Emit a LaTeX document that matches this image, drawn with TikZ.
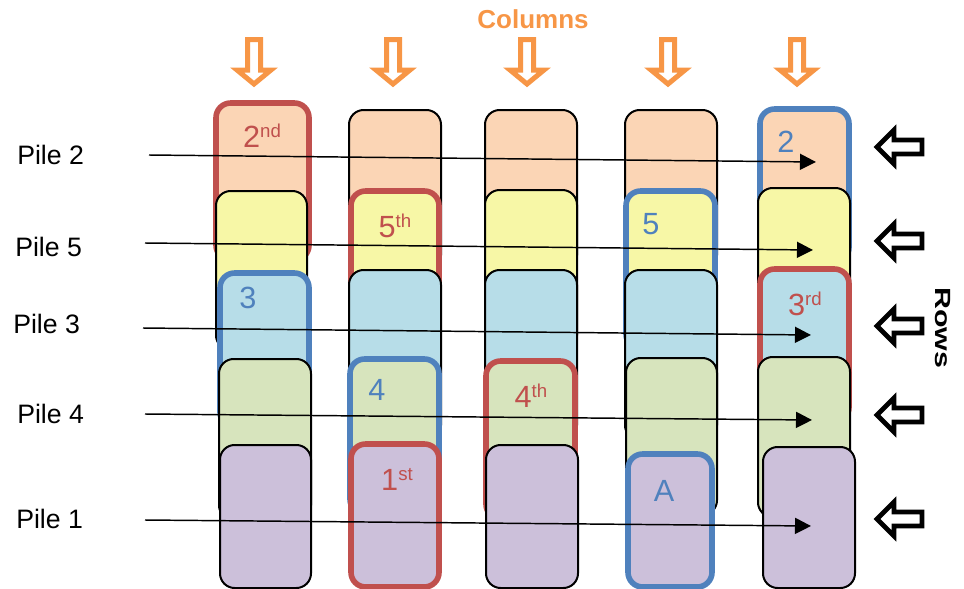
\documentclass[tikz,border=0pt]{standalone}
\usepackage{fontspec}
\setmainfont{Liberation Sans}
\usetikzlibrary{arrows.meta,fit}
\definecolor{peach}{RGB}{251,213,181}
\definecolor{yel}{RGB}{247,247,166}
\definecolor{lblue}{RGB}{183,221,232}
\definecolor{lgreen}{RGB}{215,228,189}
\definecolor{lpurple}{RGB}{204,192,218}
\definecolor{redb}{RGB}{192,80,77}
\definecolor{blueb}{RGB}{79,129,189}
\definecolor{orng}{RGB}{247,150,70}
\newcommand\supx[1]{\raisebox{7pt}{\fontsize{14}{15}\selectfont #1}}
\tikzset{
  cardbox/.style={draw=black, line width=1.5pt, rounded corners=11pt, inner sep=0pt, fill=#1},
  redbox/.style={draw=redb, line width=4.2pt, rounded corners=11pt, inner sep=0pt, fill=#1},
  bluebox/.style={draw=blueb, line width=4.2pt, rounded corners=11pt, inner sep=0pt, fill=#1},
  pilelabel/.style={font=\fontsize{20}{24}\selectfont, anchor=base west, inner sep=0pt},
  redlabel/.style={font=\fontsize{23}{27}\selectfont, text=redb, anchor=base, inner sep=0pt},
  bluelabel/.style={font=\fontsize{23}{27}\selectfont, text=blueb, anchor=base, inner sep=0pt},
  pilearrow/.style={line width=1.1pt, -{Triangle[length=12pt,width=12pt]}},
  colarrow/.style={draw=orng, line width=3.75pt, fill=white, line join=miter},
  rowarrow/.style={draw=black, line width=3.5pt, fill=white, line join=miter},
}
\begin{document}
\begin{tikzpicture}[x=0.75pt, y=-0.75pt]
\useasboundingbox (0,0) rectangle (964,589);
% ---- row 1 (peach)
\node[redbox=peach, fit={(216,103)(309,260)}] (c11) {};
\node[cardbox=peach, fit={(349,110)(441,270)}] (c21) {};
\node[cardbox=peach, fit={(485,110)(577,270)}] (c31) {};
\node[cardbox=peach, fit={(625,110)(717,270)}] (c41) {};
\node[bluebox=peach, fit={(760,109)(849,262)}] (c51) {};
\node[redlabel] (l11) at (262,147) {2\supx{nd}};
\node[bluelabel] (l51) at (786,152) {2};
% ---- row 2 (yellow)
\node[cardbox=yel, fit={(216,191)(307,350)}] (c12) {};
\node[redbox=yel, fit={(351,191)(439,352)}] (c22) {};
\node[cardbox=yel, fit={(485,190)(577,350)}] (c32) {};
\node[bluebox=yel, fit={(626,191)(715,349)}] (c42) {};
\node[cardbox=yel, fit={(758,188)(850,350)}] (c52) {};
\node[redlabel] (l22) at (395,237) {5\supx{th}};
\node[bluelabel] (l42) at (651,234) {5};
% ---- row 3 (blue)
\node[bluebox=lblue, fit={(220,273)(309,427)}] (c13) {};
\node[cardbox=lblue, fit={(349,270)(441,440)}] (c23) {};
\node[cardbox=lblue, fit={(485,270)(577,440)}] (c33) {};
\node[cardbox=lblue, fit={(625,270)(717,440)}] (c43) {};
\node[redbox=lblue, fit={(760,269)(849,422)}] (c53) {};
\node[bluelabel] (l13) at (248,308) {3};
\node[redlabel] (l53) at (805,315) {3\supx{rd}};
% ---- row 4 (green)
\node[cardbox=lgreen, fit={(219,359)(311,520)}] (c14) {};
\node[bluebox=lgreen, fit={(350,359)(439,514)}] (c24) {};
\node[redbox=lgreen, fit={(486,361)(575,519)}] (c34) {};
\node[cardbox=lgreen, fit={(626,358)(717,515)}] (c44) {};
\node[cardbox=lgreen, fit={(758,357)(850,517)}] (c54) {};
\node[bluelabel] (l24) at (377,400) {4};
\node[redlabel] (l34) at (531,407) {4\supx{th}};
% ---- row 5 (purple)
\node[cardbox=lpurple, fit={(220,445)(311,588)}] (c15) {};
\node[redbox=lpurple, fit={(351,444)(439,587)}] (c25) {};
\node[cardbox=lpurple, fit={(486,445)(578,588)}] (c35) {};
\node[bluebox=lpurple, fit={(628,454)(712,587)}] (c45) {};
\node[cardbox=lpurple, fit={(763,447)(855,588)}] (c55) {};
\node[redlabel] (l25) at (397,490) {1\supx{st}};
\node[bluelabel] (l45) at (664,501) {A};
% ---- pile labels and arrows
\node[pilelabel] (p2) at (17,164) {Pile 2};
\node[pilelabel] (p5) at (15,256) {Pile 5};
\node[pilelabel] (p3) at (13,333) {Pile 3};
\node[pilelabel] (p4) at (17,423) {Pile 4};
\node[pilelabel] (p1) at (16,528) {Pile 1};
\coordinate (s2) at (149,155); \coordinate (e2) at (816,162);
\coordinate (s5) at (145,243); \coordinate (e5) at (813,250);
\coordinate (s3) at (143,328); \coordinate (e3) at (811,335);
\coordinate (s4) at (145,414); \coordinate (e4) at (812,420);
\coordinate (s1) at (145,520); \coordinate (e1) at (811,526);
\draw[pilearrow] (s2) -- (e2);
\draw[pilearrow] (s5) -- (e5);
\draw[pilearrow] (s3) -- (e3);
\draw[pilearrow] (s4) -- (e4);
\draw[pilearrow] (s1) -- (e1);
% ---- columns
\node[font=\bfseries\fontsize{19.5}{23}\selectfont, text=orng, anchor=base, inner sep=0pt] (cols) at (533,28) {Columns};
\foreach \cx in {254,393,527,668,797}{
  \draw[colarrow] (\cx-6.5,39.5) -- (\cx+6.5,39.5) -- (\cx+6.5,70) -- (\cx+17,70) -- (\cx,84) -- (\cx-17,70) -- (\cx-6.5,70) -- cycle;
}
% ---- rows
\node[font=\bfseries\fontsize{16.5}{19}\selectfont, rotate=-90, inner sep=0pt] (rows) at (943,328) {\scalebox{1.38}[1]{Rows}};
\foreach \cy in {147,241,326,415,519}{
  \draw[rowarrow] (877,\cy) -- (894,\cy-17) -- (894,\cy-7) -- (922,\cy-7) -- (922,\cy+7) -- (894,\cy+7) -- (894,\cy+17) -- cycle;
}
\end{tikzpicture}
\end{document}
